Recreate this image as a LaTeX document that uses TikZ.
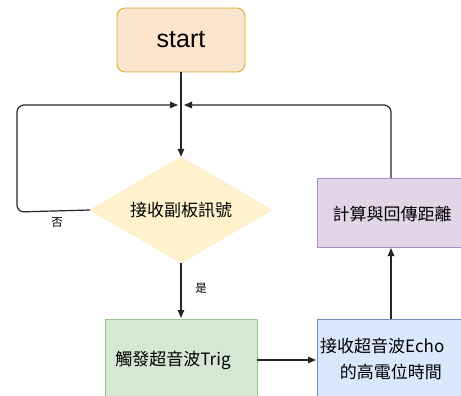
\documentclass[tikz,border=0pt]{standalone}
\usepackage{fontspec}
\setmainfont{Liberation Sans}
\newfontfamily\cjk{Noto Sans CJK TC}
\usetikzlibrary{shapes.geometric,arrows.meta}
\begin{document}
\begin{tikzpicture}[x=1pt,y=-1pt,
  arr/.style={draw=black!85, line width=1.2pt, -{Triangle[length=8pt,width=6.5pt]}},
  lbl/.style={font=\cjk\fontsize{11.5}{12}\selectfont},
  txt/.style={font=\cjk\fontsize{17}{26}\selectfont}]
\clip (0,0) rectangle (461,396);
\fill[white] (0,0) rectangle (461,396);
\node[draw={rgb,255:red,215;green,175;blue,40}, line width=0.9pt, fill={rgb,255:red,252;green,229;blue,205}, rounded corners=8pt, minimum width=128pt, minimum height=64pt, font=\fontsize{25}{28}\selectfont] (start) at (181,40) {start};
\node[diamond, aspect=1.75, fill={rgb,255:red,255;green,242;blue,204}, draw={rgb,255:red,255;green,236;blue,190}, minimum width=182pt, minimum height=106pt, inner sep=0pt, txt] (dec) at (181,210) {接收副板訊號};
\node[draw={rgb,255:red,150;green,200;blue,140}, fill={rgb,255:red,213;green,232;blue,212}, minimum width=152pt, minimum height=80pt, anchor=north west] (trig) at (105,319) {};
\node[txt] at (173,360) {觸發超音波Trig};
\node[draw={rgb,255:red,108;green,142;blue,191}, fill={rgb,255:red,218;green,232;blue,252}, minimum width=150pt, minimum height=80pt, anchor=north west] (echo) at (317,319) {};
\node[txt, align=left, inner sep=0pt, anchor=west] (echot) at (320,359) {接收超音波Echo\\\hspace*{1.15em}的高電位時間};
\node[draw={rgb,255:red,170;green,140;blue,190}, fill={rgb,255:red,225;green,213;blue,231}, minimum width=150pt, minimum height=69pt, anchor=north west] (calc) at (317,178) {};
\node[txt] at (392,214) {計算與回傳距離};
\coordinate (jl) at (178,105);
\coordinate (jr) at (184,105);
\draw[arr] (start.south) -- (dec.north);
\draw[arr, rounded corners=7pt] (dec.west) -- (17,212) -- (17,105) -- (jl);
\node[lbl] at (57,222) {否};
\draw[arr, rounded corners=7pt] (391,178) -- (391,105) -- (jr);
\draw[arr] (dec.south) -- (181,318);
\node[lbl] at (201,288) {是};
\draw[arr] (257,360) -- (316,360);
\draw[arr] (391,319) -- (391,248);
\end{tikzpicture}
\end{document}
